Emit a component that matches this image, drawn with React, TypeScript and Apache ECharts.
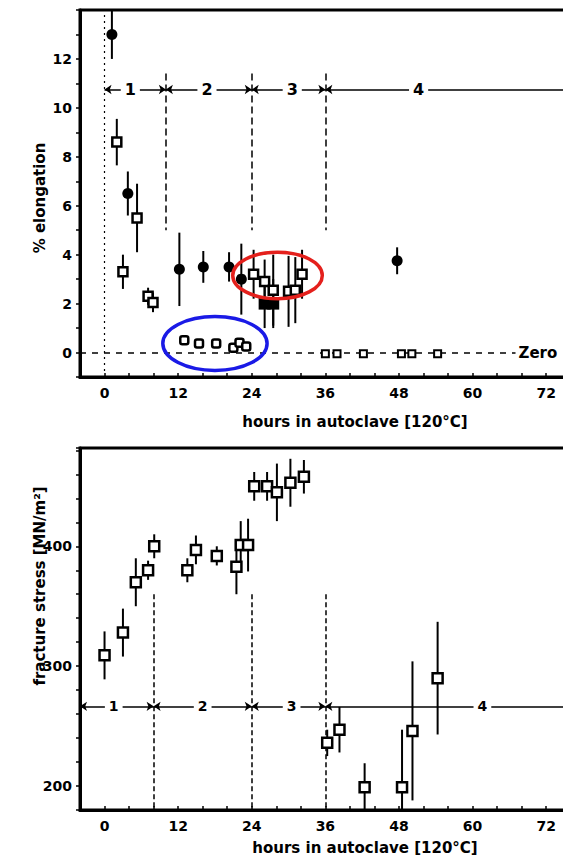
import React, { useEffect, useRef } from 'react';
import * as echarts from 'echarts';

// ---------- Top panel: % elongation vs hours ----------
const filledCircleHours = [1.2, 3.8, 12.2, 16.1, 20.3, 22.3, 47.7];
const filledCircleElong = [13.0, 6.5, 3.4, 3.5, 3.5, 3.0, 3.75];
const filledCircleErr = [1.0, 0.9, 1.5, 0.65, 0.6, 1.45, 0.55];

const filledSquareHours = [26.1, 27.5];
const filledSquareElong = [2.0, 2.0];
const filledSquareErr = [1.0, 1.0];

const openSquareHours = [2.0, 5.3, 3.0, 7.1, 7.9, 24.3, 26.1, 27.5, 30.0, 31.1, 32.2];
const openSquareElong = [8.6, 5.5, 3.3, 2.3, 2.05, 3.2, 2.9, 2.55, 2.5, 2.55, 3.2];
const openSquareErr = [0.95, 1.4, 0.7, 0.35, 0.4, 1.0, 0.9, 1.45, 1.45, 1.35, 1.0];

const nearZeroHours = [13.0, 15.4, 18.2, 21.0, 22.0, 23.1];
const nearZeroElong = [0.5, 0.37, 0.37, 0.2, 0.4, 0.25];

const zeroHours = [36.0, 37.9, 42.2, 48.4, 50.1, 54.3];
const zeroElong = [-0.05, -0.05, -0.05, -0.05, -0.05, -0.05];

const topPeriodBounds = [0, 10, 24, 36, 78];
const topPeriodLabelHours = [4.2, 16.7, 30.6, 51.2];
const topPeriodLevel = 10.75;
const topDividerHours = [10, 24, 36];

// ---------- Bottom panel: fracture stress vs hours ----------
const stressHours = [0, 3.0, 5.1, 7.1, 8.1, 13.5, 14.9, 18.3, 21.5, 22.2, 23.4, 24.4, 26.5, 28.1, 30.3, 32.5, 36.3, 38.3, 42.4, 48.5, 50.2, 54.3];
const stressValues = [309, 328, 370, 380, 400, 380, 397, 392, 383, 401, 401, 450, 450, 445, 453, 458, 236, 247, 199, 199, 246, 290];
const stressErr = [20, 20, 20, 8, 10, 10, 12, 8, 23, 20, 22, 12, 12, 24, 20, 14, 11, 19, 20, 48, 58, 47];

const bottomPeriodBounds = [-4, 8, 24, 36, 78];
const bottomPeriodLabelHours = [1.5, 16.0, 30.5, 61.6];
const bottomPeriodLevel = 266.5;
const bottomDividerHours = [8, 24, 36];

const periodNames = ['1', '2', '3', '4'];
const xLabelHours = [0, 12, 24, 36, 48, 60, 72];

const FONT = 'DejaVu Sans';

const zip3 = (a: number[], b: number[], c: number[]) => a.map((v, i) => [v, b[i], c[i]]);
const zip2 = (a: number[], b: number[]) => a.map((v, i) => [v, b[i]]);

export default function App() {
  const ref = useRef<HTMLDivElement>(null);
  useEffect(() => {
    document.body.style.margin = '0';
    const chart = echarts.init(ref.current!, null, { renderer: 'svg' });

    const xAxisBase = (gridIndex: number) => ({
      type: 'value',
      gridIndex,
      min: -4,
      max: 78,
      interval: 4,
      axisLine: { show: true, onZero: false, lineStyle: { color: '#000', width: 3 } },
      axisTick: { show: true, inside: true, length: 4, lineStyle: { color: '#000', width: 1.5 } },
      axisLabel: {
        color: '#000',
        fontFamily: FONT,
        fontWeight: 'bold',
        fontSize: 14,
        margin: 9,
        formatter: (v: number) => (xLabelHours.indexOf(v) >= 0 ? String(v) : ''),
      },
      splitLine: { show: false },
    });

    const yAxisBase = (gridIndex: number, min: number, max: number, interval: number, fmt: (v: number) => string) => ({
      type: 'value',
      gridIndex,
      min,
      max,
      interval,
      axisLine: { show: true, onZero: false, lineStyle: { color: '#000', width: 3 } },
      axisTick: { show: true, inside: false, length: 4, lineStyle: { color: '#000', width: 1.5 } },
      axisLabel: {
        color: '#000',
        fontFamily: FONT,
        fontWeight: 'bold',
        fontSize: 14,
        margin: 8,
        formatter: fmt,
      },
      splitLine: { show: false },
    });

    const errRender = (params: any, api: any) => {
      const x = api.value(0);
      const y = api.value(1);
      const e = api.value(2);
      const p1 = api.coord([x, y + e]);
      const p2 = api.coord([x, y - e]);
      return {
        type: 'line',
        shape: { x1: p1[0], y1: p1[1], x2: p2[0], y2: p2[1] },
        style: { stroke: '#000', lineWidth: 2 },
      };
    };

    const periodLines = (bounds: number[], level: number) =>
      bounds.slice(0, -1).map((b, i) => [{ coord: [b, level] }, { coord: [bounds[i + 1], level] }]);

    const labelStyle = {
      show: true,
      position: 'inside',
      formatter: (p: any) => p.value[2],
      color: '#000',
      opacity: 1,
      fontFamily: FONT,
      fontWeight: 'bold',
      fontSize: 16,
      backgroundColor: '#fff',
      padding: [0, 4],
    };

    const openStyle = (bw: number) => ({ color: '#fff', borderColor: '#000', borderWidth: bw, opacity: 1 });
    const solidStyle = { color: '#000', opacity: 1 };

    chart.setOption({
      animation: false,
      backgroundColor: '#fff',
      grid: [
        { left: 80, top: 10, width: 503, height: 367, outerBoundsMode: 'none', show: true, borderColor: '#000', borderWidth: 3 },
        { left: 80, top: 448, width: 503, height: 362, outerBoundsMode: 'none', show: true, borderColor: '#000', borderWidth: 3 },
      ],
      xAxis: [xAxisBase(0), xAxisBase(1)],
      yAxis: [
        yAxisBase(0, -1, 14, 1, (v: number) => (v >= 0 && v <= 12 && v % 2 === 0 ? String(v) : '')),
        yAxisBase(1, 180, 482, 20, (v: number) => (v % 100 === 0 ? String(v) : '')),
      ],
      series: [
        // ----- top reference lines -----
        {
          type: 'line',
          xAxisIndex: 0,
          yAxisIndex: 0,
          data: [],
          silent: true,
          markLine: {
            silent: true,
            symbol: 'none',
            label: { show: false },
            lineStyle: { color: '#000', width: 1.5, type: [7, 4] },
            data: topDividerHours.map((h) => [{ coord: [h, 11.4] }, { coord: [h, 5.0] }]),
          },
        },
        {
          type: 'line',
          xAxisIndex: 0,
          yAxisIndex: 0,
          data: [],
          silent: true,
          markLine: {
            silent: true,
            symbol: 'none',
            label: { show: false },
            lineStyle: { color: '#000', width: 1.2, type: [2, 4] },
            data: [[{ coord: [0, 13.8] }, { coord: [0, -0.85] }]],
          },
        },
        {
          type: 'line',
          xAxisIndex: 0,
          yAxisIndex: 0,
          data: [],
          silent: true,
          markLine: {
            silent: true,
            symbol: 'none',
            lineStyle: { color: '#000', width: 1.5, type: [6, 6] },
            label: {
              show: true,
              position: 'end',
              formatter: 'Zero',
              color: '#000',
              fontFamily: FONT,
              fontWeight: 'bold',
              fontSize: 15,
              distance: 3,
            },
            data: [[{ coord: [-4, 0] }, { coord: [67, 0] }]],
          },
        },
        {
          type: 'line',
          xAxisIndex: 0,
          yAxisIndex: 0,
          data: [],
          silent: true,
          markLine: {
            silent: true,
            symbol: ['arrow', 'arrow'],
            symbolSize: 7,
            label: { show: false },
            lineStyle: { color: '#000', width: 1.5, type: 'solid' },
            data: periodLines(topPeriodBounds, topPeriodLevel),
          },
        },
        {
          type: 'scatter',
          xAxisIndex: 0,
          yAxisIndex: 0,
          z: 10,
          silent: true,
          symbol: 'rect',
          symbolSize: 1,
          itemStyle: { color: '#fff', opacity: 1 },
          label: labelStyle,
          data: topPeriodLabelHours.map((h, i) => [h, topPeriodLevel, periodNames[i]]),
        },
        // ----- top error bars -----
        {
          type: 'custom',
          xAxisIndex: 0,
          yAxisIndex: 0,
          clip: true,
          renderItem: errRender,
          data: [
            ...zip3(filledCircleHours, filledCircleElong, filledCircleErr),
            ...zip3(filledSquareHours, filledSquareElong, filledSquareErr),
            ...zip3(openSquareHours, openSquareElong, openSquareErr),
          ],
          z: 3,
        },
        {
          type: 'scatter',
          xAxisIndex: 0,
          yAxisIndex: 0,
          symbol: 'circle',
          symbolSize: 11,
          itemStyle: solidStyle,
          data: zip2(filledCircleHours, filledCircleElong),
          z: 4,
        },
        {
          type: 'scatter',
          xAxisIndex: 0,
          yAxisIndex: 0,
          symbol: 'rect',
          symbolSize: 12,
          itemStyle: solidStyle,
          data: zip2(filledSquareHours, filledSquareElong),
          z: 4,
        },
        {
          type: 'scatter',
          xAxisIndex: 0,
          yAxisIndex: 0,
          symbol: 'rect',
          symbolSize: 9,
          itemStyle: openStyle(2.5),
          data: zip2(openSquareHours, openSquareElong),
          z: 5,
        },
        {
          type: 'scatter',
          xAxisIndex: 0,
          yAxisIndex: 0,
          symbol: 'roundRect',
          symbolSize: 8,
          itemStyle: openStyle(2.5),
          data: zip2(nearZeroHours, nearZeroElong),
          z: 5,
        },
        {
          type: 'scatter',
          xAxisIndex: 0,
          yAxisIndex: 0,
          symbol: 'rect',
          symbolSize: 7,
          itemStyle: openStyle(2),
          data: zip2(zeroHours, zeroElong),
          z: 5,
        },
        // ----- bottom reference lines -----
        {
          type: 'line',
          xAxisIndex: 1,
          yAxisIndex: 1,
          data: [],
          silent: true,
          markLine: {
            silent: true,
            symbol: 'none',
            label: { show: false },
            lineStyle: { color: '#000', width: 1.5, type: [5, 3] },
            data: bottomDividerHours.map((h) => [{ coord: [h, 360] }, { coord: [h, 180] }]),
          },
        },
        {
          type: 'line',
          xAxisIndex: 1,
          yAxisIndex: 1,
          data: [],
          silent: true,
          markLine: {
            silent: true,
            symbol: ['arrow', 'arrow'],
            symbolSize: 7,
            label: { show: false },
            lineStyle: { color: '#000', width: 1.5, type: 'solid' },
            data: periodLines(bottomPeriodBounds, bottomPeriodLevel),
          },
        },
        {
          type: 'scatter',
          xAxisIndex: 1,
          yAxisIndex: 1,
          z: 10,
          silent: true,
          symbol: 'rect',
          symbolSize: 1,
          itemStyle: { color: '#fff', opacity: 1 },
          label: { ...labelStyle, fontSize: 14 },
          data: bottomPeriodLabelHours.map((h, i) => [h, bottomPeriodLevel, periodNames[i]]),
        },
        {
          type: 'custom',
          xAxisIndex: 1,
          yAxisIndex: 1,
          clip: true,
          renderItem: errRender,
          data: zip3(stressHours, stressValues, stressErr),
          z: 3,
        },
        {
          type: 'scatter',
          xAxisIndex: 1,
          yAxisIndex: 1,
          symbol: 'rect',
          symbolSize: 10,
          itemStyle: openStyle(2.5),
          data: zip2(stressHours, stressValues),
          z: 5,
        },
      ],
    });

    // Annotation ellipses, placed in data coordinates
    const ellipse = (cx: number, cy: number, rxH: number, ryV: number, color: string) => {
      const c = chart.convertToPixel({ gridIndex: 0 }, [cx, cy]) as number[];
      const e = chart.convertToPixel({ gridIndex: 0 }, [cx + rxH, cy + ryV]) as number[];
      return {
        type: 'ellipse',
        shape: { cx: c[0], cy: c[1], rx: Math.abs(e[0] - c[0]), ry: Math.abs(c[1] - e[1]) },
        style: { fill: 'none', stroke: color, lineWidth: 3.5 },
        z: 100,
        silent: true,
      };
    };

    const nameText = (x: number, y: number, text: string, rotate: boolean) => ({
      type: 'text',
      x,
      y,
      rotation: rotate ? Math.PI / 2 : 0,
      silent: true,
      style: {
        text,
        fill: '#000',
        font: `bold 15px "${FONT}"`,
        textAlign: 'center',
        textVerticalAlign: 'middle',
      },
    });

    chart.setOption({
      graphic: [
        ellipse(28.2, 3.15, 7.3, 0.95, '#e4201c'),
        ellipse(18.0, 0.37, 8.5, 1.1, '#1a1ae6'),
        nameText(40, 198, '% elongation', true),
        nameText(355, 422, 'hours in autoclave [120°C]', false),
        nameText(40, 586, 'fracture stress [MN/m²]', true),
        nameText(365, 848, 'hours in autoclave [120°C]', false),
      ],
    });

    return () => chart.dispose();
  }, []);
  return <div ref={ref} style={{ width: 563, height: 861 }} />;
}
